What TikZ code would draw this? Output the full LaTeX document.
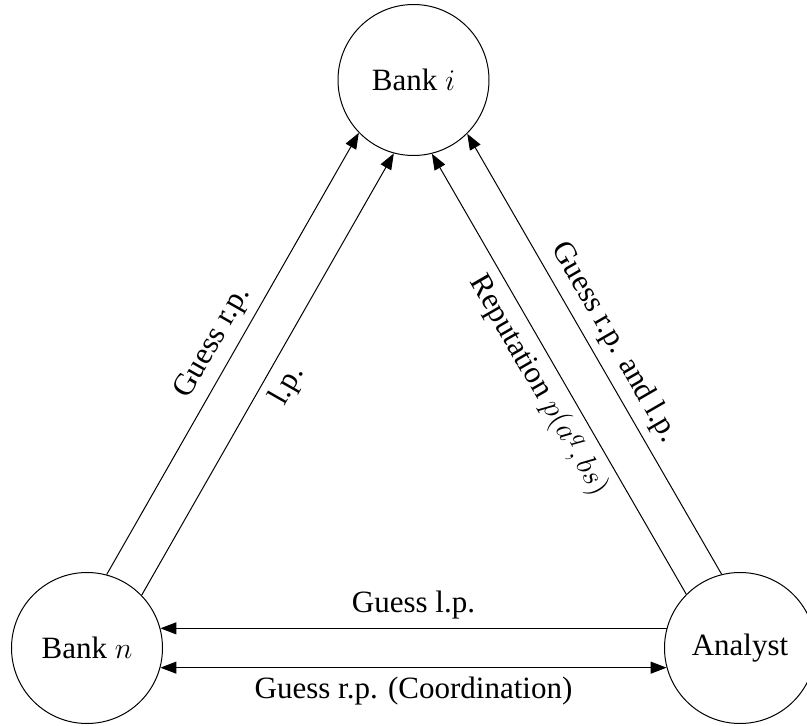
\documentclass[tikz,border=0pt]{standalone}
\usepackage[no-math]{fontspec}
\setmainfont{Liberation Serif}
\usepackage{amsmath}
\usetikzlibrary{arrows.meta}

\tikzset{
  agent/.style={draw,circle,minimum size=60.4pt,inner sep=0pt},
}

\begin{document}
\begin{tikzpicture}[x=0.4pt,y=-0.4pt,>={Triangle[length=6.4pt,width=4.8pt]},font=\fontsize{12.4}{15}\selectfont]
  \useasboundingbox (0,0) rectangle (807,726); % 図全体の範囲
  \node[agent] (bi) at (413.5,80) {Bank $i$}; % 上の銀行
  \node[agent] (bn) at (87,648) {Bank $n$}; % 左下の銀行
  \node[agent] (an) at (740,648) {Analyst}; % 右下のアナリスト
  \draw[->] (bn.75.5) -- node[sloped,above]{Guess r.p.} (bi.224.7); % 左側の外の矢印
  \draw[->] (bn.44.7) -- node[sloped,below]{l.p.} (bi.255.5); % 左側の内の矢印
  \draw[<-] (bi.284.5) -- node[sloped,below]{Reputation $p(a^q,bs)$} (an.135.3); % 右側の内の矢印
  \draw[<-] (bi.315.3) -- node[sloped,above]{Guess r.p. and l.p.} (an.104.5); % 右側の外の矢印
  \draw[<-] (bn.15) -- node[above]{Guess l.p.} (an.165); % 下側の上の矢印
  \draw[<->] (bn.-15) -- node[below]{Guess r.p. (Coordination)} (an.195); % 下側の両向きの矢印
\end{tikzpicture}
\end{document}
